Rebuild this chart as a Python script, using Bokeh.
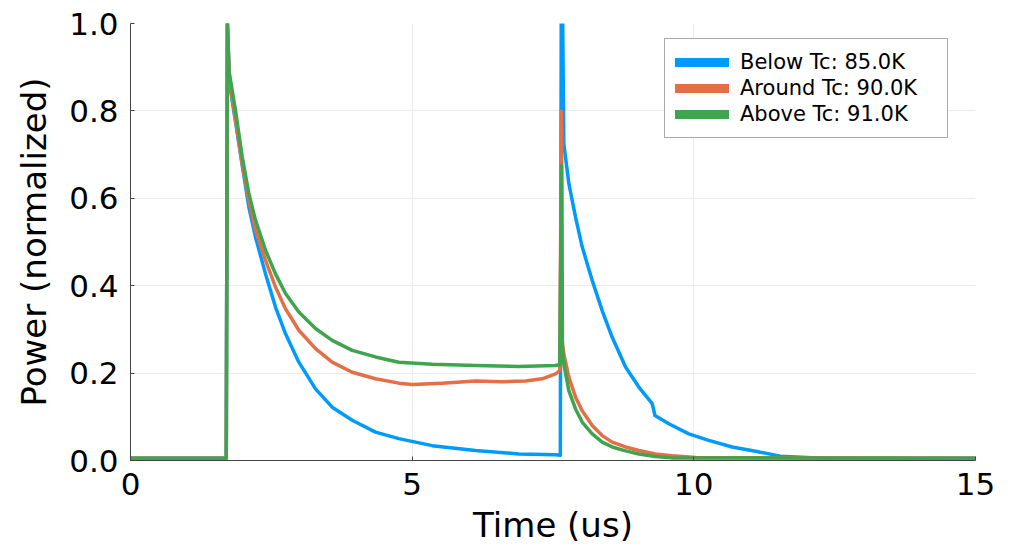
from bokeh.plotting import figure
from bokeh.models import Range1d, FixedTicker, PrintfTickFormatter, Legend, LegendItem
from bokeh.embed import file_html
from bokeh.resources import INLINE

# ---- data ----
below_t = [0, 1.70, 1.72, 1.76, 1.864, 1.983, 2.101, 2.219, 2.397, 2.574, 2.752, 2.988, 3.284, 3.580,
           3.936, 4.349, 4.763, 5.356, 6.125, 6.893, 7.545, 7.63, 7.651, 7.692, 7.781, 7.900, 8.018,
           8.196, 8.373, 8.551, 8.788, 9.023, 9.261, 9.31, 9.556, 9.911, 10.266, 10.68, 11.096,
           11.54, 12.2, 13.5, 15.0]
below_p = [0.005, 0.005, 1.0, 0.86, 0.775, 0.675, 0.580, 0.511, 0.427, 0.351, 0.290, 0.225, 0.164, 0.122,
           0.092, 0.065, 0.050, 0.034, 0.023, 0.015, 0.013, 0.012, 1.3, 0.725, 0.634, 0.557, 0.489,
           0.412, 0.343, 0.282, 0.214, 0.168, 0.130, 0.103, 0.084, 0.061, 0.046, 0.031, 0.021,
           0.010, 0.006, 0.005, 0.005]

around_t = [0, 1.70, 1.72, 1.757, 1.864, 1.983, 2.101, 2.219, 2.397, 2.574, 2.752, 2.988, 3.284, 3.580,
            3.936, 4.349, 4.763, 5.0, 5.533, 6.125, 6.598, 7.012, 7.308, 7.545, 7.62, 7.651, 7.665,
            7.692, 7.781, 7.900, 8.018, 8.196, 8.373, 8.551, 8.788, 9.023, 9.320, 9.615, 10.03, 15.0]
around_p = [0.005, 0.005, 1.0, 0.870, 0.779, 0.679, 0.595, 0.527, 0.458, 0.397, 0.347, 0.298, 0.256, 0.225,
            0.202, 0.187, 0.177, 0.174, 0.177, 0.182, 0.180, 0.182, 0.187, 0.198, 0.206, 0.80, 0.27,
            0.244, 0.191, 0.145, 0.114, 0.080, 0.057, 0.042, 0.031, 0.023, 0.015, 0.011, 0.007, 0.005]

above_t = [0, 1.70, 1.72, 1.746, 1.864, 1.983, 2.101, 2.219, 2.397, 2.574, 2.752, 2.988, 3.284, 3.580,
           3.936, 4.349, 4.763, 5.356, 6.125, 6.893, 7.545, 7.62, 7.651, 7.668, 7.692, 7.781, 7.900,
           8.018, 8.196, 8.373, 8.551, 8.788, 9.023, 9.32, 9.6, 15.0]
above_p = [0.005, 0.005, 1.0, 0.893, 0.801, 0.695, 0.611, 0.550, 0.481, 0.427, 0.382, 0.340, 0.302, 0.275,
           0.252, 0.237, 0.225, 0.220, 0.2175, 0.215, 0.2175, 0.22, 0.675, 0.25, 0.221, 0.160, 0.118,
           0.088, 0.061, 0.042, 0.031, 0.022, 0.015, 0.009, 0.006, 0.005]

labels = ["Below Tc: 85.0K", "Around Tc: 90.0K", "Above Tc: 91.0K"]
colors = ["#009AFA", "#E26F46", "#3EA44E"]
x_ticks = [0, 5, 10, 15]
y_ticks = [0.0, 0.2, 0.4, 0.6, 0.8, 1.0]

FONT = "DejaVu Sans"
NAN = float("nan")

p = figure(width=1010, height=547, output_backend="svg", toolbar_location=None,
           x_range=Range1d(0, 15), y_range=Range1d(0, 1),
           min_border_left=130, min_border_right=35, min_border_top=23, min_border_bottom=87)
p.outline_line_color = None
p.background_fill_color = "white"
p.border_fill_color = "white"

series = [(below_t, below_p), (around_t, around_p), (above_t, above_p)]
items = []
for (t, pw), c, lab in zip(series, colors, labels):
    p.line(t, pw, line_color=c, line_width=3.5, line_join="round")
    key = p.line(x=[NAN], y=[NAN], line_color=c, line_width=9, line_cap="round")
    items.append(LegendItem(label=lab, renderers=[key]))

for ax in (p.xaxis[0], p.yaxis[0]):
    ax.axis_line_color = "#444444"
    ax.axis_line_width = 1
    ax.major_tick_in = 4
    ax.major_tick_out = 0
    ax.major_tick_line_color = "#444444"
    ax.minor_tick_line_color = None
    ax.major_label_text_font = FONT
    ax.major_label_text_font_size = "31px"
    ax.major_label_text_color = "black"
    ax.axis_label_text_font = FONT
    ax.axis_label_text_font_size = "34px"
    ax.axis_label_text_font_style = "normal"
    ax.axis_label_text_color = "black"

p.xaxis.ticker = FixedTicker(ticks=x_ticks)
p.yaxis.ticker = FixedTicker(ticks=y_ticks)
p.xaxis.formatter = PrintfTickFormatter(format="%d")
p.yaxis.formatter = PrintfTickFormatter(format="%.1f")
p.xaxis.axis_label = "Time (us)"
p.yaxis.axis_label = "Power (normalized)"
p.xaxis.major_label_standoff = 12
p.yaxis.major_label_standoff = 12
p.xaxis.axis_label_standoff = 7
p.yaxis.axis_label_standoff = 12

for g in (p.xgrid[0], p.ygrid[0]):
    g.grid_line_color = "#ebebeb"
    g.grid_line_width = 1
p.xgrid.ticker = FixedTicker(ticks=x_ticks)
p.ygrid.ticker = FixedTicker(ticks=y_ticks)

legend = Legend(items=items, location=(534, 322), margin=0, padding=10, spacing=0,
                glyph_width=54, glyph_height=26, label_height=26, label_standoff=11,
                label_width=197,
                label_text_font=FONT, label_text_font_size="21px", label_text_color="black",
                border_line_color="#555555", border_line_width=1,
                background_fill_color="white", background_fill_alpha=1.0)
p.add_layout(legend)

open("out.html", "w").write(file_html(p, INLINE))
